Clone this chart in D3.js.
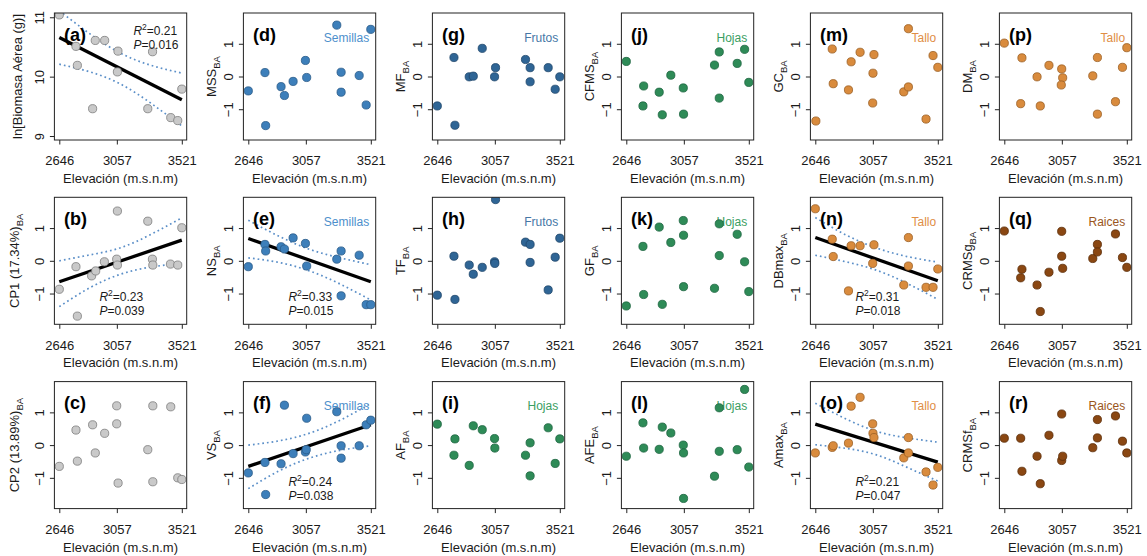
<!DOCTYPE html>
<html>
<head>
<meta charset="utf-8">
<script src="https://cdn.jsdelivr.net/npm/d3@7"></script>
<style>
  body { margin: 0; background: #fff; }
  svg text { font-family: "Liberation Sans", Arial, Helvetica, sans-serif; }
</style>
</head>
<body>
<svg id="chart" width="1147" height="556"></svg>
<script>
// ---- data: [elevation (m.s.n.m), value] ----
const xTicks = [2646, 3057, 3521]
const yTicks = [-1, 0, 1]
const yTicksA = [9, 10, 11]
const fitElev = [2646, 3521]
const bandElev = [2646, 2865, 3084, 3302, 3521]

const ptsA = [[2646, 11.04], [2765, 10.51], [2775, 10.19], [2884, 9.46], [2903, 10.61], [2970, 10.61], [3065, 10.43], [3061, 10.08], [3278, 9.46], [3312, 10.42], [3442, 9.31], [3492, 9.26], [3521, 9.79]]
const ptsB = [[2646, -0.87], [2765, -0.18], [2775, -1.69], [2877, -0.46], [2906, -0.31], [2968, -0.03], [3056, 0.05], [3061, -0.13], [3061, 1.52], [3278, 1.21], [3311, 0.05], [3314, -0.13], [3440, -0.10], [3492, -0.13], [3521, 1.01]]
const ptsC = [[2646, -0.65], [2765, 0.46], [2775, -0.49], [2884, 0.62], [2903, -0.24], [2970, 0.36], [3056, 1.20], [3056, 0.65], [3066, -1.16], [3278, -0.14], [3314, 1.20], [3314, -1.12], [3442, 1.17], [3492, -1.00], [3521, -1.05]]
const ptsD = [[2646, -0.44], [2765, 0.12], [2770, -1.50], [2880, -0.31], [2904, -0.58], [2966, -0.15], [3054, 0.49], [3063, -0.03], [3278, 1.57], [3309, 0.13], [3309, -0.48], [3438, 0.03], [3488, -0.87], [3521, 1.44]]
const ptsE = [[2646, -0.18], [2765, 0.50], [2770, 0.30], [2880, 0.43], [2904, 0.36], [2966, 0.70], [3054, 0.53], [3063, -0.16], [3278, 0.05], [3309, 0.30], [3309, -1.07], [3438, 0.17], [3488, -1.34], [3521, -1.34]]
const ptsF = [[2646, -0.85], [2765, -0.53], [2770, -1.51], [2880, -0.57], [2904, 1.22], [2966, -0.26], [3054, -0.21], [3060, -0.14], [3063, 0.82], [3278, 1.02], [3309, -0.02], [3309, -0.40], [3438, -0.02], [3488, 0.62], [3521, 0.76]]
const ptsG = [[2646, -0.90], [2765, 0.58], [2772, -1.49], [2874, -0.01], [2903, 0.01], [2967, 0.86], [3055, -0.01], [3062, 0.27], [3276, 0.52], [3309, 0.27], [3309, -0.16], [3438, 0.27], [3488, -0.39], [3521, -0.01]]
const ptsH = [[2646, -1.05], [2765, 0.14], [2772, -1.18], [2874, -0.13], [2903, -0.41], [2967, -0.20], [3055, -0.03], [3057, -0.08], [3062, 1.87], [3276, 0.57], [3309, 0.50], [3309, -0.05], [3438, -0.89], [3488, 0.11], [3521, 0.69]]
const ptsI = [[2646, 0.64], [2765, -0.31], [2772, 0.19], [2874, -0.62], [2903, 0.59], [2967, 0.47], [3055, 0.20], [3057, -0.09], [3276, -0.31], [3309, 0.07], [3309, -0.94], [3438, 0.53], [3488, -0.56], [3521, 0.19]]
const ptsJ = [[2646, 0.46], [2770, -0.29], [2765, -0.90], [2881, -0.48], [2903, -1.17], [2964, 0.04], [3053, -0.35], [3055, -1.15], [3276, 0.35], [3310, 0.75], [3310, -0.66], [3438, 0.40], [3491, 0.83], [3521, -0.18]]
const ptsK = [[2646, -1.38], [2765, 0.44], [2770, -1.03], [2881, 1.03], [2903, -1.33], [2964, 0.56], [3053, 1.23], [3055, 0.78], [3055, -0.79], [3276, -0.84], [3310, 1.13], [3310, 0.16], [3438, 0.81], [3491, -0.03], [3521, -0.94]]
const ptsL = [[2646, -0.34], [2765, 0.68], [2770, -0.09], [2881, -0.13], [2903, 0.55], [2964, 0.37], [3053, 0.00], [3055, -0.24], [3055, -1.63], [3276, -0.95], [3310, 1.14], [3310, -0.19], [3438, -0.14], [3491, 1.70], [3521, -0.67]]
const ptsM = [[2650, -1.36], [2767, 0.84], [2774, -0.22], [2883, -0.41], [2902, 0.45], [2966, 0.74], [3056, -0.81], [3058, 0.10], [3065, 0.67], [3278, -0.47], [3311, -0.32], [3311, 1.46], [3437, -1.30], [3487, 0.64], [3521, 0.28]]
const ptsN = [[2646, 1.59], [2767, 0.66], [2774, 0.13], [2883, -0.92], [2902, 0.46], [2966, 0.46], [3056, -0.08], [3065, 0.49], [3278, -0.74], [3311, 0.71], [3311, -0.16], [3437, -0.81], [3487, -0.81], [3521, -0.25]]
const ptsO = [[2646, -0.24], [2767, -0.07], [2774, -0.02], [2883, 0.06], [2902, 1.19], [2966, 1.46], [3056, 0.65], [3058, 0.36], [3065, 0.23], [3278, -0.39], [3311, 0.23], [3311, -0.24], [3437, -0.82], [3487, -1.22], [3521, -0.68]]
const ptsP = [[2646, 1.02], [2772, 0.57], [2763, -0.83], [2880, -0.01], [2903, -0.90], [2965, 0.34], [3056, 0.23], [3063, -0.04], [3053, -0.26], [3278, 0.02], [3311, 0.58], [3311, -1.15], [3440, -0.77], [3490, 0.28], [3521, 0.88]]
const ptsQ = [[2646, 0.91], [2772, -0.26], [2763, -0.52], [2880, -0.74], [2903, -1.55], [2965, -0.35], [3056, 0.90], [3056, 0.14], [3063, -0.23], [3278, 0.07], [3311, 0.50], [3311, 0.27], [3440, 0.82], [3490, 0.10], [3521, -0.20]]
const ptsR = [[2646, 0.21], [2763, 0.21], [2772, -0.80], [2880, -0.34], [2903, -1.18], [2965, 0.30], [3056, 0.95], [3056, -0.47], [3063, -0.34], [3278, -0.08], [3311, 0.78], [3311, 0.22], [3440, 0.89], [3490, 0.12], [3521, -0.24]]

// fitted lines (at 2646 and 3521) and 95% bands (at bandElev)
const fitA = [10.66, 9.61]
const bandUpA = [11.11, 10.72, 10.395, 10.19, 10.06]
const bandLoA = [10.21, 10.08, 9.875, 9.55, 9.17]
const fitB = [-0.64, 0.63]
const bandUpB = [0.0, 0.18, 0.40, 0.81, 1.31]
const bandLoB = [-1.40, -0.82, -0.41, -0.19, -0.08]
const fitE = [0.68, -0.64]
const bandUpE = [1.24, 0.75, 0.35, 0.09, -0.12]
const bandLoE = [0.09, -0.05, -0.31, -0.71, -1.20]
const fitF = [-0.65, 0.62]
const bandUpF = [0.0, 0.13, 0.365, 0.76, 1.27]
const bandLoF = [-1.33, -0.79, -0.395, -0.16, -0.02]
const fitN = [0.71, -0.61]
const bandUpN = [1.32, 0.79, 0.39, 0.13, -0.04]
const bandLoN = [0.17, -0.03, -0.29, -0.69, -1.18]
const fitO = [0.64, -0.52]
const bandUpO = [1.28, 0.80, 0.42, 0.22, 0.09]
const bandLoO = [0.01, -0.10, -0.30, -0.68, -1.10]

const statA = ['0.21', '0.016']
const statB = ['0.23', '0.039']
const statE = ['0.33', '0.015']
const statF = ['0.24', '0.038']
const statN = ['0.31', '0.018']
const statO = ['0.21', '0.047']

const groupStyle = {
  none: { fill: '#c9c9c9', stroke: '#7c7c7c', text: '#000' },
  Semillas: { fill: '#3d7fba', stroke: '#2a5b88', text: '#4d8fcc' },
  Frutos: { fill: '#2f6595', stroke: '#1f466b', text: '#4677a6' },
  Hojas: { fill: '#2e8b57', stroke: '#1d6540', text: '#3a9e62' },
  Tallo: { fill: '#d98b3d', stroke: '#9a6024', text: '#e08e45' },
  Raices: { fill: '#8a4712', stroke: '#5a2c08', text: '#9a561c' }
}

const panels = [
  { id: 'a', col: 0, row: 0, pts: ptsA, title: 'ln[Biomasa Aérea (g)]', sub: '', group: 'none', fit: fitA, up: bandUpA, lo: bandLoA, stat: statA, statTop: true, yDomain: [8.933, 11.072], ticks: yTicksA, titleX: 32 },
  { id: 'b', col: 0, row: 1, pts: ptsB, title: 'CP1 (17.34%)', sub: 'BA', group: 'none', fit: fitB, up: bandUpB, lo: bandLoB, stat: statB, titleX: 35 },
  { id: 'c', col: 0, row: 2, pts: ptsC, title: 'CP2 (13.89%)', sub: 'BA', group: 'none', titleX: 35 },
  { id: 'd', col: 1, row: 0, pts: ptsD, title: 'MSS', sub: 'BA', group: 'Semillas' },
  { id: 'e', col: 1, row: 1, pts: ptsE, title: 'NS', sub: 'BA', group: 'Semillas', fit: fitE, up: bandUpE, lo: bandLoE, stat: statE },
  { id: 'f', col: 1, row: 2, pts: ptsF, title: 'VS', sub: 'BA', group: 'Semillas', fit: fitF, up: bandUpF, lo: bandLoF, stat: statF },
  { id: 'g', col: 2, row: 0, pts: ptsG, title: 'MF', sub: 'BA', group: 'Frutos' },
  { id: 'h', col: 2, row: 1, pts: ptsH, title: 'TF', sub: 'BA', group: 'Frutos' },
  { id: 'i', col: 2, row: 2, pts: ptsI, title: 'AF', sub: 'BA', group: 'Hojas' },
  { id: 'j', col: 3, row: 0, pts: ptsJ, title: 'CFMS', sub: 'BA', group: 'Hojas' },
  { id: 'k', col: 3, row: 1, pts: ptsK, title: 'GF', sub: 'BA', group: 'Hojas' },
  { id: 'l', col: 3, row: 2, pts: ptsL, title: 'AFE', sub: 'BA', group: 'Hojas' },
  { id: 'm', col: 4, row: 0, pts: ptsM, title: 'GC', sub: 'BA', group: 'Tallo' },
  { id: 'n', col: 4, row: 1, pts: ptsN, title: 'DBmax', sub: 'BA', group: 'Tallo', fit: fitN, up: bandUpN, lo: bandLoN, stat: statN },
  { id: 'o', col: 4, row: 2, pts: ptsO, title: 'Amax', sub: 'BA', group: 'Tallo', fit: fitO, up: bandUpO, lo: bandLoO, stat: statO },
  { id: 'p', col: 5, row: 0, pts: ptsP, title: 'DM', sub: 'BA', group: 'Tallo' },
  { id: 'q', col: 5, row: 1, pts: ptsQ, title: 'CRMSg', sub: 'BA', group: 'Raices' },
  { id: 'r', col: 5, row: 2, pts: ptsR, title: 'CRMSf', sub: 'BA', group: 'Raices' }
]

// ---- layout ----
const W = 132.3
const H = 127
const svg = d3.select('#chart')

function addStat (g, x, yPos, letter, sup, value) {
  const t = g.append('text')
    .attr('x', x)
    .attr('y', yPos)
    .attr('font-size', 12)
    .attr('fill', '#1a1a1a')
  t.append('tspan').attr('font-style', 'italic').text(letter)
  if (sup) {
    t.append('tspan').attr('font-size', 8.5).attr('dy', -5).text(sup)
    t.append('tspan').attr('dy', 5).text('=' + value)
  } else {
    t.append('tspan').text('=' + value)
  }
}

function drawPanel (p) {
  const L = 54.4 + 189 * p.col
  const T = 13 + 184.3 * p.row
  const style = groupStyle[p.group]
  const g = svg.append('g').attr('transform', 'translate(' + L + ',' + T + ')')

  const x = d3.scaleLinear().domain([2611, 3556]).range([0, W])
  const y = d3.scaleLinear().domain(p.yDomain || [-1.94, 1.94]).range([H, 0])

  const clipId = 'clip-' + p.id
  g.append('clipPath').attr('id', clipId)
    .append('rect').attr('width', W).attr('height', H)

  // category label (under the marks)
  if (p.group !== 'none') {
    g.append('text')
      .attr('x', W - 6.5)
      .attr('y', 28.5)
      .attr('text-anchor', 'end')
      .attr('font-size', 12)
      .attr('fill', style.text)
      .text(p.group)
  }

  const plot = g.append('g').attr('clip-path', 'url(#' + clipId + ')')

  if (p.fit) {
    const band = d3.line()
      .x(d => x(d[0]))
      .y(d => y(d[1]))
      .curve(d3.curveNatural)
    ;[p.up, p.lo].forEach(vals => {
      plot.append('path')
        .attr('d', band(bandElev.map((e, i) => [e, vals[i]])))
        .attr('fill', 'none')
        .attr('stroke', '#5b8fc8')
        .attr('stroke-width', 1.7)
        .attr('stroke-dasharray', '1.7,3')
    })
    plot.append('line')
      .attr('x1', x(fitElev[0])).attr('y1', y(p.fit[0]))
      .attr('x2', x(fitElev[1])).attr('y2', y(p.fit[1]))
      .attr('stroke', '#000')
      .attr('stroke-width', 3.3)
  }

  plot.selectAll('circle')
    .data(p.pts)
    .join('circle')
    .attr('cx', d => x(d[0]))
    .attr('cy', d => y(d[1]))
    .attr('r', 4.1)
    .attr('fill', style.fill)
    .attr('stroke', style.stroke)
    .attr('stroke-width', 0.8)

  // axes
  const xAxis = g.append('g')
    .attr('transform', 'translate(0,' + H + ')')
    .call(d3.axisBottom(x).tickValues(xTicks).tickSize(4.5).tickSizeOuter(0).tickPadding(11.5).tickFormat(d3.format('d')))
  const yAxis = g.append('g')
    .call(d3.axisLeft(y).tickValues(p.ticks || yTicks).tickSize(4.5).tickSizeOuter(0).tickFormat(d => d < 0 ? '\u2212' + Math.abs(d) : d))
  ;[xAxis, yAxis].forEach(a => {
    a.select('.domain').remove()
    a.selectAll('line').attr('stroke', '#222')
    a.selectAll('text')
      .attr('font-size', 13)
      .attr('fill', '#1a1a1a')
      .attr('font-family', null)
  })
  xAxis.attr('font-family', null)
  yAxis.attr('font-family', null)
  yAxis.selectAll('text')
    .attr('transform', 'rotate(-90)')
    .attr('x', 0)
    .attr('y', -10.5)
    .attr('dy', null)
    .attr('text-anchor', 'middle')

  // box
  g.append('rect')
    .attr('width', W)
    .attr('height', H)
    .attr('fill', 'none')
    .attr('stroke', '#222')
    .attr('stroke-width', 1)

  // panel letter
  g.append('text')
    .attr('x', 9.5)
    .attr('y', 27.5)
    .attr('font-size', 18)
    .attr('font-weight', 'bold')
    .attr('fill', '#000')
    .text('(' + p.id + ')')

  if (p.stat) {
    const sx = p.statTop ? 79 : 45
    const sy = p.statTop ? 21.5 : 104
    addStat(g, sx, sy, 'R', '2', p.stat[0])
    addStat(g, sx, sy + 14, 'P', null, p.stat[1])
  }

  // axis titles
  g.append('text')
    .attr('x', W / 2)
    .attr('y', H + 43)
    .attr('text-anchor', 'middle')
    .attr('font-size', 13)
    .attr('fill', '#1a1a1a')
    .text('Elevación (m.s.n.m)')

  const yt = g.append('text')
    .attr('transform', 'translate(' + (-(p.titleX || 27)) + ',' + (H / 2) + ') rotate(-90)')
    .attr('text-anchor', 'middle')
    .attr('font-size', 13)
    .attr('fill', '#1a1a1a')
  yt.append('tspan').text(p.title)
  if (p.sub) yt.append('tspan').attr('font-size', 9.5).attr('dy', 3.5).text(p.sub)
}

panels.forEach(drawPanel)
</script>
</body>
</html>
